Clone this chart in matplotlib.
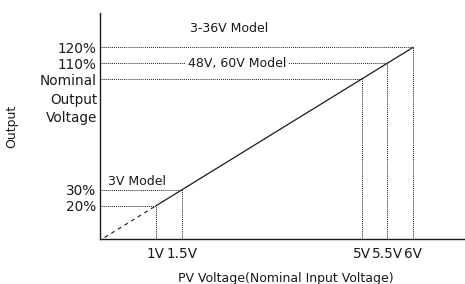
import matplotlib
matplotlib.use("Agg")
from matplotlib import pyplot as plt
from matplotlib import transforms

# knee points of the characteristic (PV voltage in V, output in %)
pv_volts = [1, 1.5, 5, 5.5, 6]
out_pct = [20, 30, 100, 110, 120]
x_labels = ["1V", "1.5V", "5V", "5.5V", "6V"]
y_labels = ["20%", "30%", "Nominal", "110%", "120%"]

plt.rcParams['font.family'] = ['DejaVu Sans']
ink = '#1a1a1a'

fig = plt.figure(figsize=(4.65, 2.84), dpi=100)
ax = fig.add_axes([100/465, 45/284, 365/465, 226/284])
ax.set_xlim(-0.09, 7.01)
ax.set_ylim(-1, 141.7)

# dashed part below the minimum input, then the solid ramp
ax.plot([0, pv_volts[0]], [0, out_pct[0]], color=ink, lw=0.8,
        dashes=(3.5, 3.5))
ax.plot([pv_volts[0], pv_volts[-1]], [out_pct[0], out_pct[-1]],
        color=ink, lw=0.9)

# dotted guides to both axes
for v, p in zip(pv_volts, out_pct):
    ax.plot([ax.get_xlim()[0], v], [p, p], color=ink, lw=0.7, ls=(0, (1, 1)))
    ax.plot([v, v], [ax.get_ylim()[0], p], color=ink, lw=0.7, ls=(0, (1, 1)))

ax.set_xticks(pv_volts)
ax.set_xticklabels(x_labels)
ax.set_yticks(out_pct)
ax.set_yticklabels(y_labels)
ax.tick_params(axis='both', length=0, labelsize=9.8, labelcolor=ink)
ax.tick_params(axis='y', pad=2.5)
ax.tick_params(axis='x', pad=6)

# second and third lines under "Nominal"
trans = transforms.blended_transform_factory(ax.transAxes, ax.transData)
ax.text(-0.008, 91.5, "Output\nVoltage", transform=trans, ha='right',
        va='top', fontsize=9.8, linespacing=1.4, color=ink)

ax.text(1.66, 131.6, "3-36V Model", fontsize=9, va='center', ha='left', color=ink)
ax.text(1.62, 110, "48V, 60V Model", fontsize=9, va='center', ha='left', color=ink,
        bbox=dict(facecolor='white', edgecolor='none', pad=1.5))
ax.text(0.07, 35.6, "3V Model", fontsize=9, va='center', ha='left', color=ink)

ax.set_ylabel("Output", fontsize=9, color=ink)
ax.yaxis.set_label_coords(-0.225, 0.5)
ax.set_xlabel("PV Voltage(Nominal Input Voltage)", fontsize=9, color=ink)
ax.xaxis.set_label_coords(0.51, -0.145)

for s in ['top', 'right']:
    ax.spines[s].set_visible(False)
for s in ['left', 'bottom']:
    ax.spines[s].set_linewidth(1.0)
    ax.spines[s].set_color(ink)

fig.savefig("out.png", dpi=100)
